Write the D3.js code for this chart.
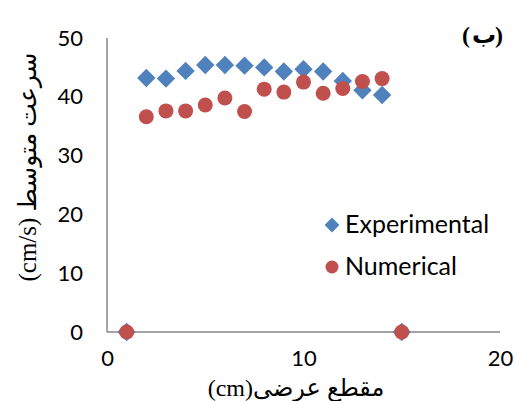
<!DOCTYPE html>
<html><head><meta charset="utf-8">
<script src="https://cdn.jsdelivr.net/npm/d3@7"></script>
<style>body{margin:0;background:#fff}</style>
</head><body>
<script>
const xPositions = [1, 2, 3, 4, 5, 6, 7, 8, 9, 10, 11, 12, 13, 14, 15];
const experimental = [0, 43.2, 43.1, 44.4, 45.4, 45.4, 45.3, 45.0, 44.3, 44.7, 44.3, 42.7, 41.1, 40.3, 0];
const numerical = [0, 36.6, 37.6, 37.6, 38.6, 39.8, 37.5, 41.3, 40.8, 42.5, 40.6, 41.4, 42.6, 43.1, 0];
const xTicks = [0, 10, 20];
const yTicks = [0, 10, 20, 30, 40, 50];
const seriesNames = ["Experimental", "Numerical"];
const xTitle = "مقطع عرضی(cm)";
const yTitle = "سرعت متوسط (cm/s)";
const panelLetter = "ب";

const W = 515, H = 401;
const svg = d3.select("body").append("svg").attr("width", W).attr("height", H);
const x = d3.scaleLinear().domain([0, 20]).range([107, 500]);
const y = d3.scaleLinear().domain([0, 50]).range([332, 38]);
const axisColor = "#868686";
const blue = "#4F81BD", red = "#C0504D";
const tickFont = "Lato, 'Open Sans', sans-serif";
const serif = "'Liberation Serif', 'DejaVu Serif', 'DejaVu Sans', serif";

// axes
const yAxis = d3.axisLeft(y).tickValues(yTicks).tickSize(0).tickPadding(24).tickFormat(d3.format("d"));
const gy = svg.append("g").attr("transform", `translate(${x(0)},0)`).call(yAxis);
gy.select(".domain").attr("stroke", axisColor).attr("stroke-width", 1.5).attr("d", `M0,${y(0)}V${y(50)}`);
gy.selectAll("text").attr("font-family", tickFont).attr("font-size", 22).attr("fill", "#000");

const xAxis = d3.axisBottom(x).tickValues(xTicks).tickSize(0).tickPadding(18).tickFormat(d3.format("d"));
const gx = svg.append("g").attr("transform", `translate(0,${y(0)})`).call(xAxis);
gx.select(".domain").attr("stroke", axisColor).attr("stroke-width", 1.5).attr("d", `M${x(0)},0H${x(20)}`);
gx.selectAll("text").attr("font-family", tickFont).attr("font-size", 22).attr("fill", "#000");

// series
const diamond = d3.symbol().type(d3.symbolDiamond2).size(215);
const expData = xPositions.map((v, i) => [v, experimental[i]]);
const numData = xPositions.map((v, i) => [v, numerical[i]]);
svg.append("g").selectAll("path").data(expData).join("path")
  .attr("d", diamond)
  .attr("transform", d => `translate(${x(d[0])},${y(d[1])})`)
  .attr("fill", blue);
svg.append("g").selectAll("circle").data(numData).join("circle")
  .attr("cx", d => x(d[0])).attr("cy", d => y(d[1])).attr("r", 7.5)
  .attr("fill", red);

// legend
const leg = svg.append("g");
leg.append("path").attr("d", d3.symbol().type(d3.symbolDiamond2).size(140)).attr("transform", "translate(332,225)").attr("fill", blue);
leg.append("circle").attr("cx", 332).attr("cy", 267).attr("r", 6.5).attr("fill", red);
leg.append("text").attr("x", 345).attr("y", 233).text(seriesNames[0])
  .attr("font-family", tickFont).attr("font-size", 25).attr("fill", "#000");
leg.append("text").attr("x", 345).attr("y", 275).text(seriesNames[1])
  .attr("font-family", tickFont).attr("font-size", 25).attr("fill", "#000");

// titles
svg.append("text").attr("x", 296).attr("y", 396).attr("text-anchor", "middle")
  .attr("direction", "rtl").attr("font-family", serif).attr("font-size", 24).text(xTitle);
svg.append("text").attr("transform", "translate(36,167) rotate(-90)").attr("text-anchor", "middle")
  .attr("direction", "rtl").attr("font-family", serif).attr("font-size", 25).text(yTitle);
const pl = svg.append("text").attr("y", 43)
  .attr("font-family", serif).attr("font-weight", "bold").attr("font-size", 24);
pl.append("tspan").attr("x", 462).text("(");
pl.append("tspan").attr("x", 472).text(panelLetter);
pl.append("tspan").attr("x", 495).text(")");
</script>
</body></html>
